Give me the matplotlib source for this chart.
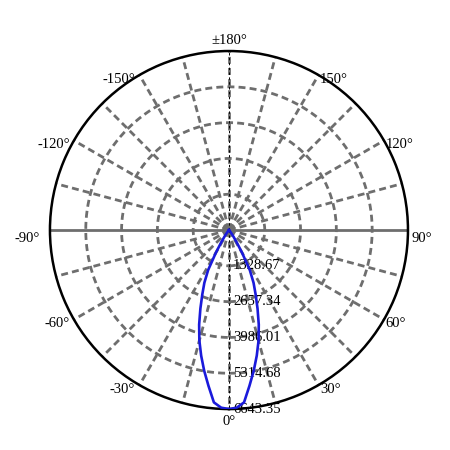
import numpy as np
import matplotlib.pyplot as plt

# luminous intensity distribution (cd)
angles_deg = [-90, -60, -45, -40, -37.5, -35, -32.5, -30, -27.5, -25, -22.5,
              -20, -17.5, -15, -12.5, -10, -7.5, -5, -2.5,
              0, 2.5, 5, 7.5, 10, 12.5, 15, 17.5, 20, 22.5, 25, 27.5, 30, 32.5, 35, 37.5, 40,
              45, 60, 90]
intensity = [0, 0, 0, 30, 100, 250, 500, 970, 1675, 2160, 2585,
             3100, 3680, 4245, 4770, 5300, 5830, 6420, 6600,
             6643, 6600, 6420, 5830, 5300, 4770, 4245, 3680, 3100, 2585, 2160, 1675, 970, 500, 250, 100, 30,
             0, 0, 0]
ring_values = [1328.67, 2657.34, 3986.01, 5314.68, 6643.35]
label_angles = [0, 30, 60, 90, 120, 150, 180, -150, -120, -90, -60, -30]
label_texts = ['0°', '30°', '60°', '90°', '120°', '150°', '±180°', '-150°', '-120°', '-90°', '-60°', '-30°']

plt.rcParams['font.family'] = ['Liberation Serif', 'DejaVu Serif']
plt.rcParams['font.size'] = 10.5

fig = plt.figure(figsize=(4.5, 4.5), dpi=100)
ax = fig.add_axes([0.111, 0.091, 0.7956, 0.7956], projection='polar')
ax.set_theta_zero_location('S')
ax.set_theta_direction(1)
rmax = ring_values[-1]
ax.set_ylim(0, rmax)
ax.grid(False)
ax.set_xticks([])
ax.set_yticks([])
ax.spines['polar'].set_color('black')
ax.spines['polar'].set_linewidth(1.8)

grey = '#6e6e6e'
dash = (0, (2.5, 1.5))
# spokes every 15 degrees
for a in range(0, 360, 15):
    th = np.deg2rad(a)
    if a in (90, 270):
        ax.plot([th, th], [0, rmax], color=grey, lw=2, zorder=1)
    else:
        ax.plot([th, th], [0, rmax], color=grey, lw=2, linestyle=dash, zorder=1)
for a in (0, 180):
    th = np.deg2rad(a)
    ax.plot([th, th], [0, rmax], color='black', lw=0.7, linestyle=(0, (2.5, 2.5)), zorder=2)

# rings
circ = np.linspace(0, 2 * np.pi, 500)
for rv in ring_values[:-1]:
    ax.plot(circ, np.full_like(circ, rv), color=grey, lw=2, linestyle=dash, zorder=1)

# radial labels along 0 degrees
for rv in ring_values:
    ax.annotate('%.2f' % rv, xy=(0, rv), xytext=(3, 0), textcoords='offset points',
                ha='left', va='center', zorder=4)

# angle labels
for a, t in zip(label_angles, label_texts):
    th = np.deg2rad(a)
    if a == 0:
        off, ha, va = (0, -4), 'center', 'top'
    elif a == 180:
        off, ha, va = (0, 3), 'center', 'bottom'
    elif a > 0:
        off, ha, va = (1, -3), 'left', 'center'
    else:
        off, ha, va = (-3, -3), 'right', 'center'
    if abs(a) == 90:
        off = (off[0] * 2.5, -6)
    ax.annotate(t, xy=(th, rmax), xytext=off, textcoords='offset points',
                ha=ha, va=va, annotation_clip=False)

ax.plot(np.deg2rad(angles_deg), intensity, color='#1a1adb', lw=1.9, zorder=5)

fig.savefig('out.png', dpi=100)
